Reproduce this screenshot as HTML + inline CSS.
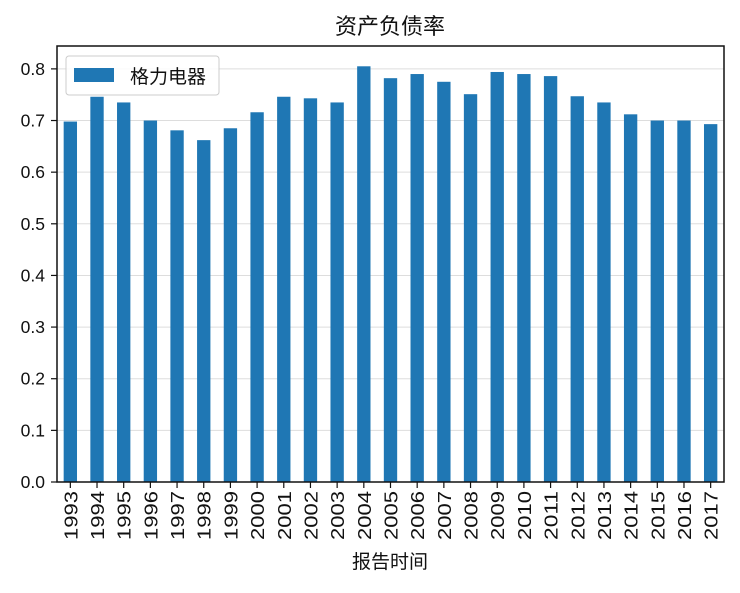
<!DOCTYPE html>
<html><head><meta charset="utf-8"><style>
body{margin:0;background:#fff;}
svg text{font-family:"Liberation Sans","Noto Sans CJK SC",sans-serif;fill:#111;}
</style></head><body>
<svg width="740" height="588" xmlns="http://www.w3.org/2000/svg" id="chart">
<text x="390" y="34" font-size="22" text-anchor="middle">资产负债率</text>
<g id="grid"></g><g id="bars"></g><g id="yticks"></g><g id="xticks"></g>
<rect x="57" y="46" width="667" height="436" fill="none" stroke="#111" stroke-width="1.5"/>
<g>
<rect x="66" y="56" width="153" height="39" rx="3" fill="#fff" fill-opacity="0.85" stroke="#ccc"/>
<rect x="74" y="68" width="40" height="14" fill="#1f77b4"/>
<text x="130" y="83" font-size="19">格力电器</text>
</g>
<text x="390" y="568" font-size="19" text-anchor="middle">报告时间</text>
</svg>
<script>
const categories=["1993","1994","1995","1996","1997","1998","1999","2000","2001","2002","2003","2004","2005","2006","2007","2008","2009","2010","2011","2012","2013","2014","2015","2016","2017"];
const values=[0.698,0.746,0.735,0.700,0.681,0.662,0.685,0.716,0.746,0.743,0.735,0.805,0.782,0.790,0.775,0.751,0.794,0.790,0.786,0.747,0.735,0.712,0.700,0.700,0.693];
const yTicks=[0,0.1,0.2,0.3,0.4,0.5,0.6,0.7,0.8];
const yTickLabels=["0.0","0.1","0.2","0.3","0.4","0.5","0.6","0.7","0.8"];
const L=57,R=724,B=482,T=46,YMAX=0.8443;
const ns="http://www.w3.org/2000/svg";
const y=v=>B-(B-T)*v/YMAX;
const step=(R-L)/categories.length;
const x=i=>L+step*(i+0.5);
function mk(t,a){const e=document.createElementNS(ns,t);for(const k in a)e.setAttribute(k,a[k]);return e;}
const grid=document.getElementById('grid'),yt=document.getElementById('yticks'),bars=document.getElementById('bars'),xt=document.getElementById('xticks');
yTicks.forEach((v,i)=>{
 const g=mk('line',{x1:L,x2:R,y1:y(v),y2:y(v),stroke:'#ddd','stroke-width':1});
 
 
 grid.appendChild(g);
 const tk=mk('line',{x1:L-6,x2:L,y1:y(v),y2:y(v),stroke:'#111','stroke-width':1.2});
 
 
 yt.appendChild(tk);
 const t=mk('text',{x:L-12,y:y(v)+6,'font-size':17.5,'text-anchor':'end'});
 t.textContent=yTickLabels[i];
 
 
 yt.appendChild(t);
});
categories.forEach((c,i)=>{
 const w=step*0.5;
 const r=mk('rect',{x:x(i)-w/2,y:y(values[i]),width:w,height:B-y(values[i]),fill:'#1f77b4'});
 
 
 bars.appendChild(r);
 const tk=mk('line',{x1:x(i),x2:x(i),y1:B,y2:B+6,stroke:'#111','stroke-width':1.2});
 
 
 xt.appendChild(tk);
 const t=mk('text',{x:0,y:0,'font-size':18,'text-anchor':'end',textLength:49,lengthAdjust:'spacingAndGlyphs',transform:`translate(${x(i)+7},${B+9}) rotate(-90)`});
 t.textContent=c;
 
 
 xt.appendChild(t);
});
</script>
</body></html>
